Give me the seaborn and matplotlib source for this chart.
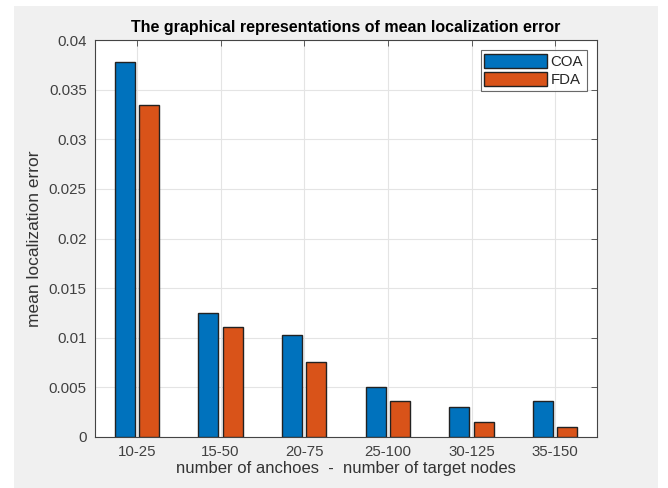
import numpy as np
import pandas as pd
import matplotlib
matplotlib.use("Agg")
import matplotlib.pyplot as plt
import seaborn as sns
from matplotlib.patches import Rectangle

# DATA

categories = ["10-25", "15-50", "20-75", "25-100", "30-125", "35-150"]
coa_values = [0.0378, 0.0125, 0.0103, 0.0050, 0.0030, 0.0036]
fda_values = [0.0335, 0.0111, 0.0076, 0.0036, 0.0015, 0.0010]
series_names = ["COA", "FDA"]
y_ticks = [0, 0.005, 0.01, 0.015, 0.02, 0.025, 0.03, 0.035, 0.04]
y_tick_labels = ["0", "0.005", "0.01", "0.015", "0.02", "0.025", "0.03", "0.035", "0.04"]

df = pd.DataFrame({
    "group": categories * 2,
    "method": [series_names[0]] * len(categories) + [series_names[1]] * len(categories),
    "error": coa_values + fda_values,
})

# STYLE

sns.set_style("white")
plt.rcParams["font.family"] = ["Liberation Sans", "DejaVu Sans"]

fig = plt.figure(figsize=(6.68, 4.88), dpi=100, facecolor="white")
# grey matlab-like window background
fig.patches.append(Rectangle((14 / 668, 0), (658 - 14) / 668, 1 - 6 / 488,
                             transform=fig.transFigure, facecolor="#f0f0f0",
                             edgecolor="none", zorder=-10))
ax = fig.add_axes([95 / 668, 1 - 437 / 488, (597 - 95) / 668, (437 - 40) / 488])
ax.set_zorder(5)
ax.set_facecolor("white")

# BARS

sns.barplot(data=df, x="group", y="error", hue="method",
            palette=["#0072BD", "#D95319"], width=0.58, gap=0.17,
            edgecolor="#222222", linewidth=1.0, saturation=1, ax=ax, zorder=3)

ax.set_ylim(0, 0.04)
ax.set_xlim(-0.5, 5.5)
ax.set_yticks(y_ticks)
ax.set_yticklabels(y_tick_labels)
ax.grid(True, color="#e4e4e4", linewidth=0.8, zorder=0)
ax.set_axisbelow(True)

for s in ax.spines.values():
    s.set_color("#444444")
    s.set_linewidth(0.8)
ax.tick_params(direction="in", length=4, width=0.6, color="#444444",
               labelsize=10.8, labelcolor="#404040", top=True, right=True, pad=6)

ax.set_xlabel("number of anchoes  -  number of target nodes", fontsize=12, color="#333333", labelpad=1)
ax.set_ylabel("mean localization error", fontsize=12.5, color="#333333", labelpad=5)
ax.set_title("The graphical representations of mean localization error",
             fontsize=11.5, fontweight="bold", color="black", pad=6)

leg = ax.legend(loc="upper right", fontsize=10.8, frameon=True, fancybox=False,
                edgecolor="#444444", handlelength=4.2, handleheight=1.0,
                handletextpad=0.2, borderpad=0.25, labelspacing=0.2,
                borderaxespad=0.7)
leg.get_frame().set_linewidth(0.8)
leg.set_title(None)

plt.savefig("out.png", dpi=100, facecolor=fig.get_facecolor())
